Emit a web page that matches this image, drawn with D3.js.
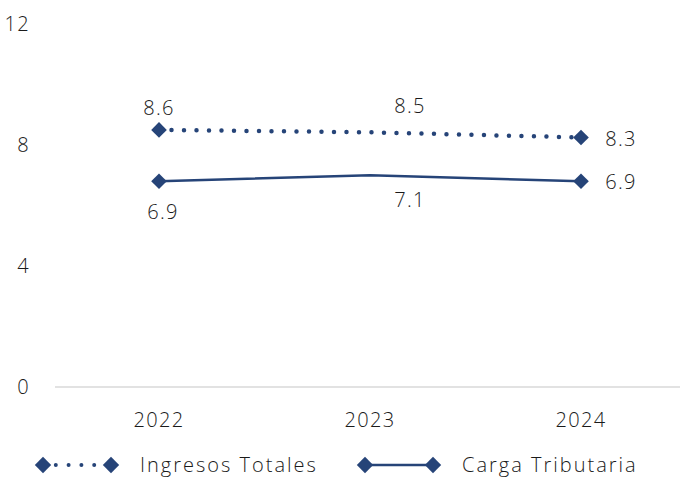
<!DOCTYPE html>
<html>
<head>
<meta charset="utf-8">
<script src="https://cdn.jsdelivr.net/npm/d3@7"></script>
<style>
  body { margin: 0; background: #fff; }
  svg text { font-family: "Open Sans", "Noto Sans", sans-serif; font-weight: 350; fill: #1a1a1a; letter-spacing: 1.3px; }
  svg text.leg { letter-spacing: 2px; }
</style>
</head>
<body>
<svg class="chart"></svg>
<script>
// datos
const years = ["2022", "2023", "2024"];
const ingresos = [8.5, 8.42, 8.25];      // posición
const carga = [6.8, 7.0, 6.8];
const ingresosLabels = ["8.6", "8.5", "8.3"];  // etiquetas tal como aparecen
const cargaLabels = ["6.9", "7.1", "6.9"];
const yTicks = [0, 4, 8, 12];
const seriesNames = ["Ingresos Totales", "Carga Tributaria"];

const w = 680, h = 477;
const color = "#264478";
const fs = 20;

const svg = d3.select("svg.chart")
  .attr("width", w)
  .attr("height", h)
  .attr("viewBox", `0 0 ${w} ${h}`);

const x = d3.scalePoint().domain(years).range([159, 581]);
const y = d3.scaleLinear().domain([0, 12]).range([387, 24]);

// eje x (solo la linea base)
svg.append("line")
  .attr("x1", 55).attr("x2", w)
  .attr("y1", y(0)).attr("y2", y(0))
  .attr("stroke", "#d9d9d9").attr("stroke-width", 1.5);

// etiquetas eje y
svg.selectAll("text.ytick")
  .data(yTicks)
  .join("text")
  .attr("class", "ytick")
  .attr("x", 30)
  .attr("y", d => y(d))
  .attr("dy", "0.35em")
  .attr("text-anchor", "end")
  .attr("font-size", fs)
  .text(d => d);

// etiquetas eje x
svg.selectAll("text.xtick")
  .data(years)
  .join("text")
  .attr("class", "xtick")
  .attr("x", d => x(d))
  .attr("y", 420)
  .attr("dy", "0.35em")
  .attr("text-anchor", "middle")
  .attr("font-size", fs)
  .text(d => d);

const line = d3.line()
  .x((d, i) => x(years[i]))
  .y(d => y(d));

// ingresos: linea de puntos
svg.append("path")
  .attr("d", line(ingresos))
  .attr("fill", "none")
  .attr("stroke", color)
  .attr("stroke-width", 4.5)
  .attr("stroke-linecap", "round")
  .attr("stroke-dasharray", "0 12.5");

// carga: linea continua
svg.append("path")
  .attr("d", line(carga))
  .attr("fill", "none")
  .attr("stroke", color)
  .attr("stroke-width", 2.5);

const diamond = d3.symbol().type(d3.symbolDiamond2).size(155);
const diamondLeg = d3.symbol().type(d3.symbolDiamond2).size(170);

// marcadores solo en el primer y ultimo punto
function markers(vals, cls) {
  const pts = vals.map((v, i) => ({ v, i })).filter(d => d.i !== 1);
  svg.selectAll("path." + cls)
    .data(pts)
    .join("path")
    .attr("class", cls)
    .attr("d", diamond)
    .attr("transform", d => `translate(${x(years[d.i])},${y(d.v)})`)
    .attr("fill", color);
}
markers(ingresos, "m-ing");
markers(carga, "m-car");

// posiciones de las etiquetas de datos
const ingOffsets = [[0, -22], [40, -26], [40, 2]];
const carOffsets = [[4, 31], [40, 25], [40, 1]];

function dataLabels(vals, labels, offs, cls) {
  svg.selectAll("text." + cls)
    .data(vals)
    .join("text")
    .attr("class", cls)
    .attr("x", (d, i) => x(years[i]) + offs[i][0])
    .attr("y", (d, i) => y(d) + offs[i][1])
    .attr("dy", "0.35em")
    .attr("text-anchor", "middle")
    .attr("font-size", fs)
    .text((d, i) => labels[i]);
}
dataLabels(ingresos, ingresosLabels, ingOffsets, "l-ing");
dataLabels(carga, cargaLabels, carOffsets, "l-car");

// leyenda
const legY = 465;
const leg = svg.append("g");
const legItems = [
  { name: seriesNames[0], x0: 43, dotted: true },
  { name: seriesNames[1], x0: 365, dotted: false }
];
legItems.forEach(it => {
  leg.append("line")
    .attr("x1", it.x0).attr("x2", it.x0 + 68)
    .attr("y1", legY).attr("y2", legY)
    .attr("stroke", color)
    .attr("stroke-width", it.dotted ? 4 : 2.5)
    .attr("stroke-linecap", it.dotted ? "round" : "butt")
    .attr("stroke-dasharray", it.dotted ? "0 12.8" : null);
  [it.x0, it.x0 + 68].forEach(px => {
    leg.append("path")
      .attr("d", diamondLeg)
      .attr("transform", `translate(${px},${legY})`)
      .attr("fill", color);
  });
  leg.append("text")
    .attr("class", "leg")
    .attr("x", it.x0 + 97)
    .attr("y", legY)
    .attr("dy", "0.35em")
    .attr("font-size", fs)
    .text(it.name);
});
</script>
</body>
</html>
